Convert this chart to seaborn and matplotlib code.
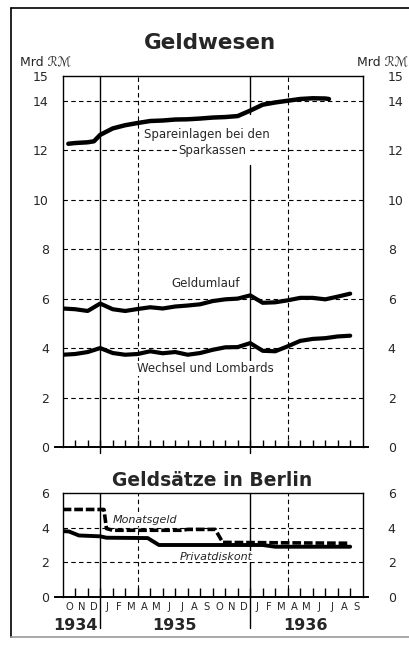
import numpy as np
import pandas as pd
import matplotlib
matplotlib.use("Agg")
import matplotlib.pyplot as plt
import matplotlib.transforms as mtransforms
from matplotlib.lines import Line2D
import seaborn as sns

sns.set_style("white")
plt.rcParams['font.family'] = ['DejaVu Sans']

# ---- data (x = months since 1 Oct 1934) ----
spar_x = [0.45, 1, 2, 2.5, 3, 4, 5, 6, 7, 8, 9, 10, 11, 12, 13, 14, 15, 16, 17, 18, 19, 20, 21, 21.3]
spar_y = [12.26, 12.29, 12.32, 12.36, 12.62, 12.88, 13.01, 13.10, 13.18, 13.20, 13.24, 13.25,
          13.28, 13.32, 13.34, 13.38, 13.60, 13.84, 13.93, 14.00, 14.07, 14.10, 14.09, 14.07]

umlauf_x = list(range(0, 24))
umlauf_y = [5.60, 5.57, 5.50, 5.80, 5.57, 5.50, 5.58, 5.65, 5.60, 5.68, 5.72, 5.77,
            5.90, 5.97, 6.00, 6.13, 5.83, 5.85, 5.93, 6.03, 6.03, 5.97, 6.08, 6.20]

wechsel_x = list(range(0, 24))
wechsel_y = [3.73, 3.76, 3.84, 4.00, 3.80, 3.73, 3.76, 3.87, 3.79, 3.84, 3.73, 3.80,
             3.93, 4.03, 4.04, 4.20, 3.89, 3.87, 4.07, 4.29, 4.37, 4.40, 4.47, 4.50]

monat_x = [0, 3.3, 3.5, 4, 9.5, 10, 12.2, 12.8, 23]
monat_y = [5.05, 5.05, 3.95, 3.85, 3.85, 3.9, 3.9, 3.15, 3.1]

privat_x = [0, 0.5, 1.3, 3, 3.5, 6.8, 7.7, 12, 16, 17, 23]
privat_y = [3.8, 3.78, 3.55, 3.5, 3.42, 3.4, 3.0, 3.0, 3.0, 2.9, 2.9]

month_labels = ["O", "N", "D", "J", "F", "M", "A", "M", "J", "J", "A", "S",
                "O", "N", "D", "J", "F", "M", "A", "M", "J", "J", "A", "S"]
years = ["1934", "1935", "1936"]
year_pos = [1.0, 8.9, 19.4]
top_yticks = [0, 2, 4, 6, 8, 10, 12, 14, 15]
bot_yticks = [0, 2, 4, 6]

W, H = 409, 646
fig = plt.figure(figsize=(W / 100, H / 100), dpi=100)

def fx(px):
    return px / W

def fy(py):
    return 1 - py / H

ax1 = fig.add_axes([fx(62.7), fy(447), fx(362.7) - fx(62.7), fy(76) - fy(447)])
ax2 = fig.add_axes([fx(62.7), fy(597), fx(362.7) - fx(62.7), fy(493) - fy(597)])

def style_axes(ax, ymax, ticks, gridys, tick_len):
    ax.set_xlim(0, 24)
    ax.set_ylim(0, ymax)
    for s in ax.spines.values():
        s.set_color("black")
        s.set_linewidth(1.0)
    ax.spines['bottom'].set_bounds(-0.6, 24.4)
    ax.spines['bottom'].set_linewidth(1.4)
    ax.set_yticks(ticks)
    ax.set_yticklabels([str(t) for t in ticks], fontsize=9)
    ax.tick_params(axis='y', length=0, pad=10)
    ax.set_xticks([m for m in range(1, 24)])
    ax.set_xticklabels([])
    ax.tick_params(axis='x', which='major', bottom=True, direction='in', length=tick_len,
                   width=1.0, color='black')
    ax.set_xlabel("")
    ax.set_ylabel("")
    for g in gridys:
        ax.axhline(g, color='black', lw=0.8, ls=(0, (4, 3)), zorder=1)
    for jl in [6, 18]:
        ax.axvline(jl, color='black', lw=0.8, ls=(0, (4, 3)), zorder=1)
    tw = ax.twinx()
    tw.set_ylim(0, ymax)
    tw.set_yticks(ticks)
    tw.set_yticklabels([str(t) for t in ticks], fontsize=9)
    tw.tick_params(axis='y', length=0, pad=18)
    for s in tw.spines.values():
        s.set_visible(False)
    return tw

style_axes(ax1, 15, top_yticks, [2, 4, 6, 8, 10, 12, 14], 5)
style_axes(ax2, 6, bot_yticks, [2, 4], 6.5)

# year boundary lines
ax1.axvline(3, ymin=-0.016, ymax=1, color='black', lw=1.0, clip_on=False, zorder=2)
ax1.axvline(15, ymin=-0.016, ymax=11.4 / 15, color='black', lw=1.0, clip_on=False, zorder=2)
ax1.axvline(15, ymin=13.45 / 15, ymax=1, color='black', lw=1.0, zorder=2)
ax2.axvline(3, ymin=-0.3, ymax=1, color='black', lw=1.0, clip_on=False, zorder=2)
ax2.axvline(15, ymin=-0.3, ymax=1, color='black', lw=1.0, clip_on=False, zorder=2)

# series
sns.lineplot(x=spar_x, y=spar_y, ax=ax1, color='black', lw=3.2, zorder=5,
             solid_capstyle='round')
sns.lineplot(x=umlauf_x, y=umlauf_y, ax=ax1, color='black', lw=3.0, zorder=5,
             solid_capstyle='round')
sns.lineplot(x=wechsel_x, y=wechsel_y, ax=ax1, color='black', lw=3.0, zorder=5,
             solid_capstyle='round')
sns.lineplot(x=privat_x, y=privat_y, ax=ax2, color='black', lw=2.8, zorder=5)
sns.lineplot(x=monat_x, y=monat_y, ax=ax2, color='black', lw=2.6, zorder=6,
             linestyle=(0, (2.4, 0.8)))

ax1.set_xlim(0, 24); ax2.set_xlim(0, 24)
ax1.set_ylim(0, 15); ax2.set_ylim(0, 6)

# series labels
bb = dict(facecolor='white', edgecolor='none', pad=0.6)
ax1.text(11.5, 12.63, "Spareinlagen bei den", ha='center', va='center', fontsize=8.5,
         bbox=bb, zorder=4)
ax1.text(12.0, 12.0, "Sparkassen", ha='center', va='center', fontsize=8.5,
         bbox=bb, zorder=4)
ax1.text(11.4, 6.6, "Geldumlauf", ha='center', va='center', fontsize=8.5, bbox=bb, zorder=4)
ax1.text(11.4, 3.18, "Wechsel und Lombards", ha='center', va='center', fontsize=8.5,
         bbox=bb, zorder=4)
ax2.text(6.6, 4.45, "Monatsgeld", ha='center', va='center', fontsize=8, style='italic',
         bbox=bb, zorder=4)
ax2.text(12.3, 2.33, "Privatdiskont", ha='center', va='center', fontsize=8, style='italic',
         bbox=bb, zorder=4)

# month labels and years
ax2.set_xticks([m + 0.5 for m in range(24)], minor=True)
ax2.set_xticklabels(month_labels, minor=True, fontsize=7.2)
ax2.tick_params(axis='x', which='minor', bottom=True, length=0, pad=3.5)
trans = mtransforms.blended_transform_factory(ax2.transData, ax2.transAxes)
for yl, xp in zip(years, year_pos):
    ax2.text(xp, -0.27, yl, transform=trans, ha='center', va='center', fontsize=11.5,
             fontweight='bold')

# titles
fig.text(fx(210), fy(43), "Geldwesen", ha='center', va='center', fontsize=15.5,
         fontweight='bold')
fig.text(fx(211.7), fy(480), "Geldsätze in Berlin", ha='center', va='center', fontsize=13.5,
         fontweight='bold')
fig.text(fx(20), fy(62), "Mrd ℛℳ", ha='left', va='center', fontsize=9)
fig.text(fx(408), fy(62), "Mrd ℛℳ", ha='right', va='center', fontsize=9)

# outer frame
for xs, ys, c in [([11, 11], [8, 637], 'black'), ([11, 409], [8, 8], 'black'),
                  ([11, 409], [637, 637], '#999999')]:
    fig.add_artist(Line2D([fx(v) for v in xs], [fy(v) for v in ys], color=c, lw=1.2))

fig.savefig("out.png", dpi=100)
